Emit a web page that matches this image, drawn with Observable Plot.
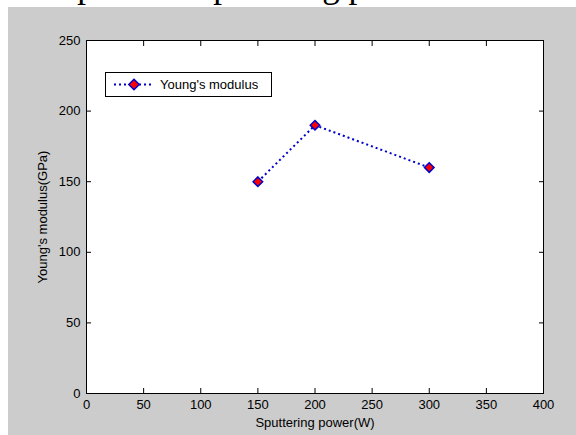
<!DOCTYPE html>
<html>
<head>
<meta charset="utf-8">
<script src="https://cdn.jsdelivr.net/npm/d3@7"></script>
<script src="https://cdn.jsdelivr.net/npm/@observablehq/plot@0.6"></script>
<style>
  html, body { margin: 0; padding: 0; background: #ffffff; }
  #page { position: relative; width: 576px; height: 435px; overflow: hidden; background: #ffffff; }
  #caption { position: absolute; left: 0; top: 0; }
  #panel { position: absolute; left: 8px; top: 7px; width: 568px; height: 428px; background: #cccccc; }
  #chart { position: absolute; left: 0; top: 0; }
  #legend { position: absolute; left: 97px; top: 65px; width: 167px; height: 25px; box-sizing: border-box;
            border: 1px solid #000; background: #fff; font-family: "Liberation Sans", Arial, sans-serif; font-size: 13px; }
  #legend svg { position: absolute; left: 0; top: 0; }
  #legend span { position: absolute; left: 54px; top: 4px; line-height: 15px; color: #000; white-space: nowrap; }
</style>
</head>
<body>
<div id="page">
  <svg id="caption" width="576" height="8">
    <text x="17" y="-3" font-family="Liberation Serif, Times New Roman, serif" font-size="35" fill="#000">compared to sputtering power.</text>
  </svg>
  <div id="panel">
    <div id="chart"></div>
    <div id="legend">
      <svg width="52" height="23">
        <line x1="8" y1="11.5" x2="46" y2="11.5" stroke="#0000cc" stroke-width="2" stroke-dasharray="2,3"></line>
        <path d="M28,6.3L33.2,11.5L28,16.7L22.8,11.5Z" fill="#ff0000" stroke="#0000cc" stroke-width="1.5"></path>
      </svg>
      <span>Young's modulus</span>
    </div>
  </div>
</div>
<script>
// Data
const power = [150, 200, 300];          // Sputtering power (W)
const modulus = [150, 190, 160];        // Young's modulus (GPa)
const xTicks = [0, 50, 100, 150, 200, 250, 300, 350, 400];
const yTicks = [0, 50, 100, 150, 200, 250];
const xLabel = "Sputtering power(W)";
const yLabel = "Young's modulus(GPa)";

const data = power.map((p, i) => ({power: p, modulus: modulus[i]}));

const lineColor = "#0000cc";

const chart = Plot.plot({
  width: 568,
  height: 428,
  marginLeft: 78,
  marginRight: 33,
  marginTop: 33,
  marginBottom: 42,
  style: {background: "transparent", fontFamily: "Liberation Sans, Arial, sans-serif", fontSize: "13px", color: "#000"},
  x: {domain: [0, 400]},
  y: {domain: [0, 250]},
  marks: [
    Plot.frame({fill: "white", stroke: null}),
    Plot.line(data, {x: "power", y: "modulus", stroke: lineColor, strokeWidth: 2, strokeDasharray: "2,3", strokeLinecap: "butt"}),
    Plot.dot(data, {x: "power", y: "modulus", symbol: "diamond2", r: 4.3, fill: "#ff0000", stroke: lineColor, strokeWidth: 1.5}),
    Plot.frame({stroke: "#000", strokeWidth: 1}),
    // inward ticks on all sides
    Plot.axisX({anchor: "bottom", ticks: xTicks, tickSize: 5, dy: -5, fill: "none", label: null}),
    Plot.axisX({anchor: "top", ticks: xTicks, tickSize: 5, dy: 5, fill: "none", label: null}),
    Plot.axisY({anchor: "left", ticks: yTicks, tickSize: 5, dx: 5, fill: "none", label: null}),
    Plot.axisY({anchor: "right", ticks: yTicks, tickSize: 5, dx: -5, fill: "none", label: null}),
    // tick labels and axis titles
    Plot.axisX({anchor: "bottom", ticks: xTicks, tickSize: 0, tickPadding: 6, tickFormat: d3.format("d"),
                label: xLabel, labelAnchor: "center", labelArrow: "none", labelOffset: 33}),
    Plot.axisY({anchor: "left", ticks: yTicks, tickSize: 0, tickPadding: 6, tickFormat: d3.format("d"),
                label: yLabel, labelAnchor: "center", labelArrow: "none", labelOffset: 49})
  ]
});
document.getElementById("chart").appendChild(chart);
</script>
</body>
</html>
